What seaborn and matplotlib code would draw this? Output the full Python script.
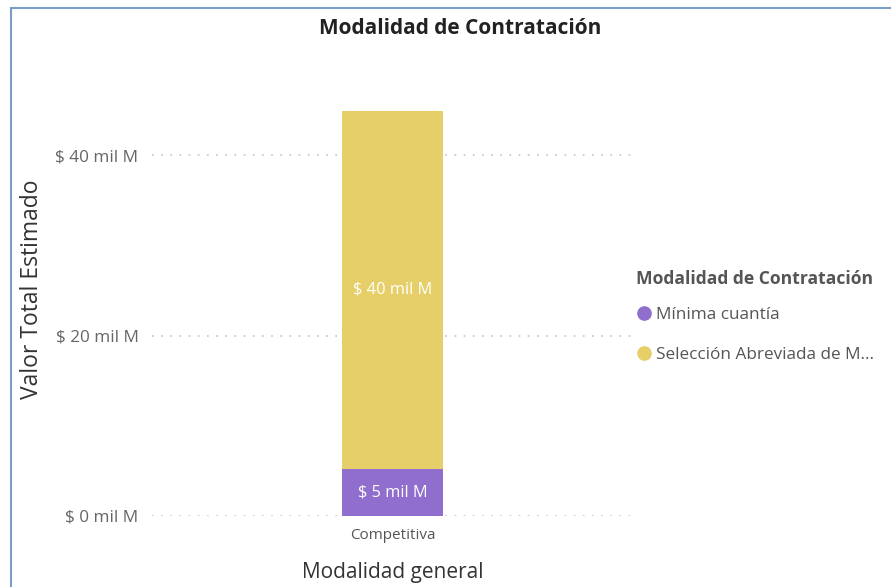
import numpy as np
import pandas as pd
import seaborn as sns
import matplotlib.pyplot as plt
from matplotlib.lines import Line2D
from matplotlib.patches import Rectangle

# data (miles de millones)
categoria = ["Competitiva"]
modalidades = ["Mínima cuantía", "Selección Abreviada de M..."]
minima = [5.2]
seleccion = [39.7]
etiquetas = ["$ 5 mil M", "$ 40 mil M"]
yticks = [0, 20, 40]
ytick_labels = ["$ 0 mil M", "$ 20 mil M", "$ 40 mil M"]

colores = ["#8F6ECD", "#E6CF68"]

df = pd.DataFrame({"cat": categoria, "minima": minima, "seleccion": seleccion})
df["total"] = df["minima"] + df["seleccion"]

sns.set_theme(style="white")
plt.rcParams["font.family"] = ["Open Sans", "DejaVu Sans"]

fig = plt.figure(figsize=(8.91, 5.87), dpi=100)
ax = fig.add_axes([0.171, 0.121, 0.539, 0.707])

# stacked: total first, bottom segment over it
sns.barplot(data=df, x="cat", y="total", color=colores[1], width=0.21,
            saturation=1, ax=ax, zorder=3, edgecolor="none", linewidth=0)
sns.barplot(data=df, x="cat", y="minima", color=colores[0], width=0.21,
            saturation=1, ax=ax, zorder=3, edgecolor="none", linewidth=0)

ax.set_xlim(-0.5, 0.5)
ax.set_ylim(0, 46)
ax.set_yticks(yticks)
ax.set_yticklabels(ytick_labels, fontsize=12.3, color="#666666")
ax.tick_params(axis="x", labelsize=11, labelcolor="#555555", pad=9)
ax.tick_params(axis="y", pad=10, length=0)
ax.tick_params(axis="x", length=0)
for y in yticks:
    ax.axhline(y, color="#c4c4c4", lw=1.2, ls=(0, (1, 4.5)), zorder=1)
for s in ax.spines.values():
    s.set_visible(False)

ax.set_xlabel("Modalidad general", fontsize=15, color="#333333", labelpad=13)
ax.set_ylabel("Valor Total Estimado", fontsize=16.5, color="#333333")
ax.yaxis.set_label_coords(-0.225, 0.547)

# data labels
ax.text(0, df["minima"][0] / 2, etiquetas[0], ha="center", va="center",
        color="white", fontsize=11.8, zorder=4)
ax.text(0, df["minima"][0] + df["seleccion"][0] / 2, etiquetas[1],
        ha="center", va="center", color="white", fontsize=11.8, zorder=4)

fig.text(0.517, 0.952, "Modalidad de Contratación", ha="center", va="center",
         fontsize=15, fontweight="bold", color="#222222")

# legend
handles = [Line2D([0], [0], marker="o", ls="", markersize=9.5,
                  markerfacecolor=c, markeredgecolor=c) for c in colores]
leg = fig.legend(handles, modalidades, title="Modalidad de Contratación",
                 loc="upper left", bbox_to_anchor=(0.706, 0.552), frameon=False,
                 fontsize=12.3, handletextpad=0.15, labelspacing=1.4,
                 handlelength=1.0, borderaxespad=0,
                 title_fontproperties={"weight": "bold", "size": 12.6})
leg._legend_box.align = "left"
leg._legend_box.sep = 14
leg.get_title().set_color("#555555")
for t in leg.get_texts():
    t.set_color("#555555")

# visual frame
fig.patches.append(Rectangle((0.012, -0.05), 1.2, 1.036, transform=fig.transFigure,
                             fill=False, edgecolor="#7a9cc6", lw=1.5))

fig.savefig("out.png", dpi=100)
